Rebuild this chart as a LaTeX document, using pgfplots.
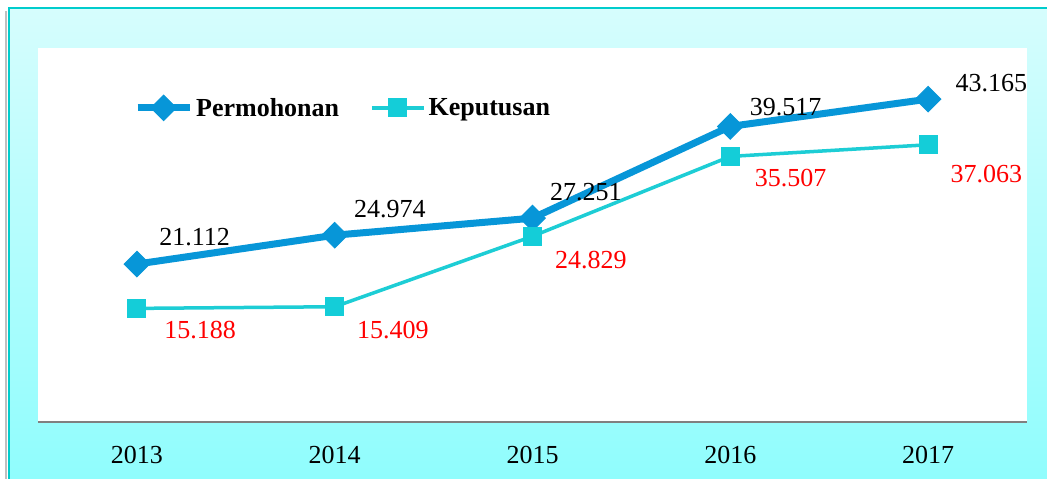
\documentclass[border=0pt]{standalone}
\usepackage{pgfplots}
\pgfplotsset{compat=1.18}
\usepackage{pgfplotstable}
\usepackage{fontspec}
\setmainfont{Liberation Serif}
\definecolor{permo}{HTML}{0796D8}
\definecolor{kepline}{HTML}{1DCDD5}
\definecolor{kepmark}{HTML}{14CDD8}
\definecolor{frametop}{HTML}{D6FDFD}
\definecolor{framebot}{HTML}{8FFDFD}
\definecolor{framedraw}{HTML}{00CCCC}

\pgfplotstableread{
x y lab dx dy
0 21.112 21.112 22 19
1 24.974 24.974 19 18
2 27.251 27.251 17 18
3 39.517 39.517 19 11
4 43.165 43.165 27 8
}\permo

\pgfplotstableread{
x y lab dx dy
0 15.188 15.188 27 -30
1 15.409 15.409 22 -32
2 24.829 24.829 22 -32
3 35.507 35.507 24 -30
4 37.063 37.063 22 -38
}\kep

\begin{document}
\begin{tikzpicture}
\path[use as bounding box] (0pt,0pt) rectangle (1047pt,479pt);
\clip (0pt,0pt) rectangle (1047pt,479pt);
\draw[black!25, line width=2pt] (6pt,-5pt) -- (6pt,468pt);
\shade[top color=frametop, bottom color=framebot] (9pt,-5pt) rectangle (1055pt,471pt);
\draw[framedraw, line width=2pt] (9pt,-5pt) -- (9pt,471pt) -- (1055pt,471pt);
\begin{axis}[
  at={(38pt,57pt)}, anchor=south west,
  scale only axis, width=989pt, height=374pt,
  xmin=-0.5, xmax=4.5, ymin=0, ymax=50,
  axis background/.style={fill=white},
  axis x line*=bottom, axis y line=none,
  x axis line style={draw=black!50, line width=2pt},
  xtick={0,1,2,3,4},
  xticklabels={2013,2014,2015,2016,2017},
  major tick length=0pt,
  xticklabel style={anchor=base, yshift=-42pt, font=\fontsize{26}{30}\selectfont},
  /pgf/number format/assume math mode=true,
  clip=false,
  legend columns=2,
  legend style={at={(0.097,0.84)}, anchor=west, draw=none, fill=none,
    inner sep=0pt, font=\fontsize{26}{30}\selectfont\bfseries,
    nodes={inner sep=3pt, anchor=west},
    /tikz/every even column/.append style={column sep=28pt}},
  legend image code/.code={
    \draw[#1,mark=none] (0pt,0pt) -- (52pt,0pt);
    \draw[#1,only marks] plot coordinates {(26pt,0pt)};
  },
  nodes near coords={\pgfplotspointmeta},
  point meta=explicit symbolic,
  visualization depends on={\thisrow{dx}\as\dx},
  visualization depends on={\thisrow{dy}\as\dy},
]
\addplot[color=permo, line width=7pt, mark=square*, mark size=9pt,
  mark options={rotate=45, line width=1pt, fill=permo, draw=permo},
  every node near coord/.append style={anchor=base west, inner sep=0pt,
    xshift=\dx pt, yshift=\dy pt, text=black, font=\fontsize{26}{30}\selectfont}]
  table[x=x, y=y, meta=lab] {\permo};
\addlegendentry{Permohonan}
\addplot[color=kepline, line width=3.5pt, mark=square*, mark size=9pt,
  mark options={line width=1pt, fill=kepmark, draw=kepmark, rounded corners=2pt},
  every node near coord/.append style={anchor=base west, inner sep=0pt,
    xshift=\dx pt, yshift=\dy pt, text=red, font=\fontsize{26}{30}\selectfont}]
  table[x=x, y=y, meta=lab] {\kep};
\addlegendentry{Keputusan}
\end{axis}
\end{tikzpicture}
\end{document}
